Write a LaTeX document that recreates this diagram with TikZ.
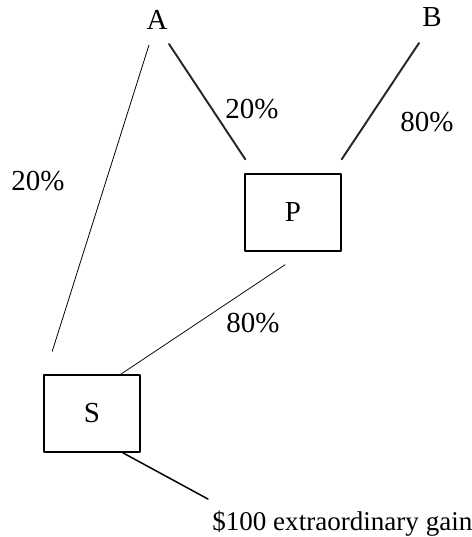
\documentclass[tikz,border=0pt]{standalone}
\usepackage{fontspec}
\setmainfont{Liberation Serif}
\usetikzlibrary{calc}

\begin{document}
\begin{tikzpicture}[x=0.02cm, y=-0.02cm, line cap=round, line join=round,
    every node/.style={font=\fontsize{16.5}{19}\selectfont},
    company/.style={draw, line width=0.85pt, minimum width=1.92cm, minimum height=1.54cm, inner sep=0pt},
    holding/.style={line width=1.1pt, black!85},
    minority/.style={line width=0.45pt}]
    \useasboundingbox (0,0) rectangle (472,537);

    \node (A) at (157,20) {A};
    \node (B) at (432,17) {B};
    \node[company] (P) at (293,212.5) {P};
    \node[company] (S) at (92,413.5) {S};
    \node[anchor=base west, inner sep=0pt, font=\fontsize{15.4}{18}\selectfont] (gain) at (212,530) {\$100 extraordinary gain};

    \draw[minority] ($(A)+(-8,25)$) -- ($(S.north west)+(9,-23)$);
    \draw[holding] ($(A)+(12,24)$) -- ($(P.north west)+(1,-14)$);
    \draw[holding] ($(B)+(-13,26)$) -- ($(P.north east)+(0,-14)$);
    \draw[minority] ($(P.south)+(-8,13)$) -- ($(S.north east)+(-20,0)$);
    \draw[line width=0.85pt] ($(S.south east)+(-18,0)$) -- ($(gain.north west)+(-4,-11)$);

    \node (AtoP) at (252,109) {20\%};
    \node (BtoP) at (427,122) {80\%};
    \node (AtoS) at (38,181) {20\%};
    \node (PtoS) at (253,323) {80\%};
\end{tikzpicture}
\end{document}
